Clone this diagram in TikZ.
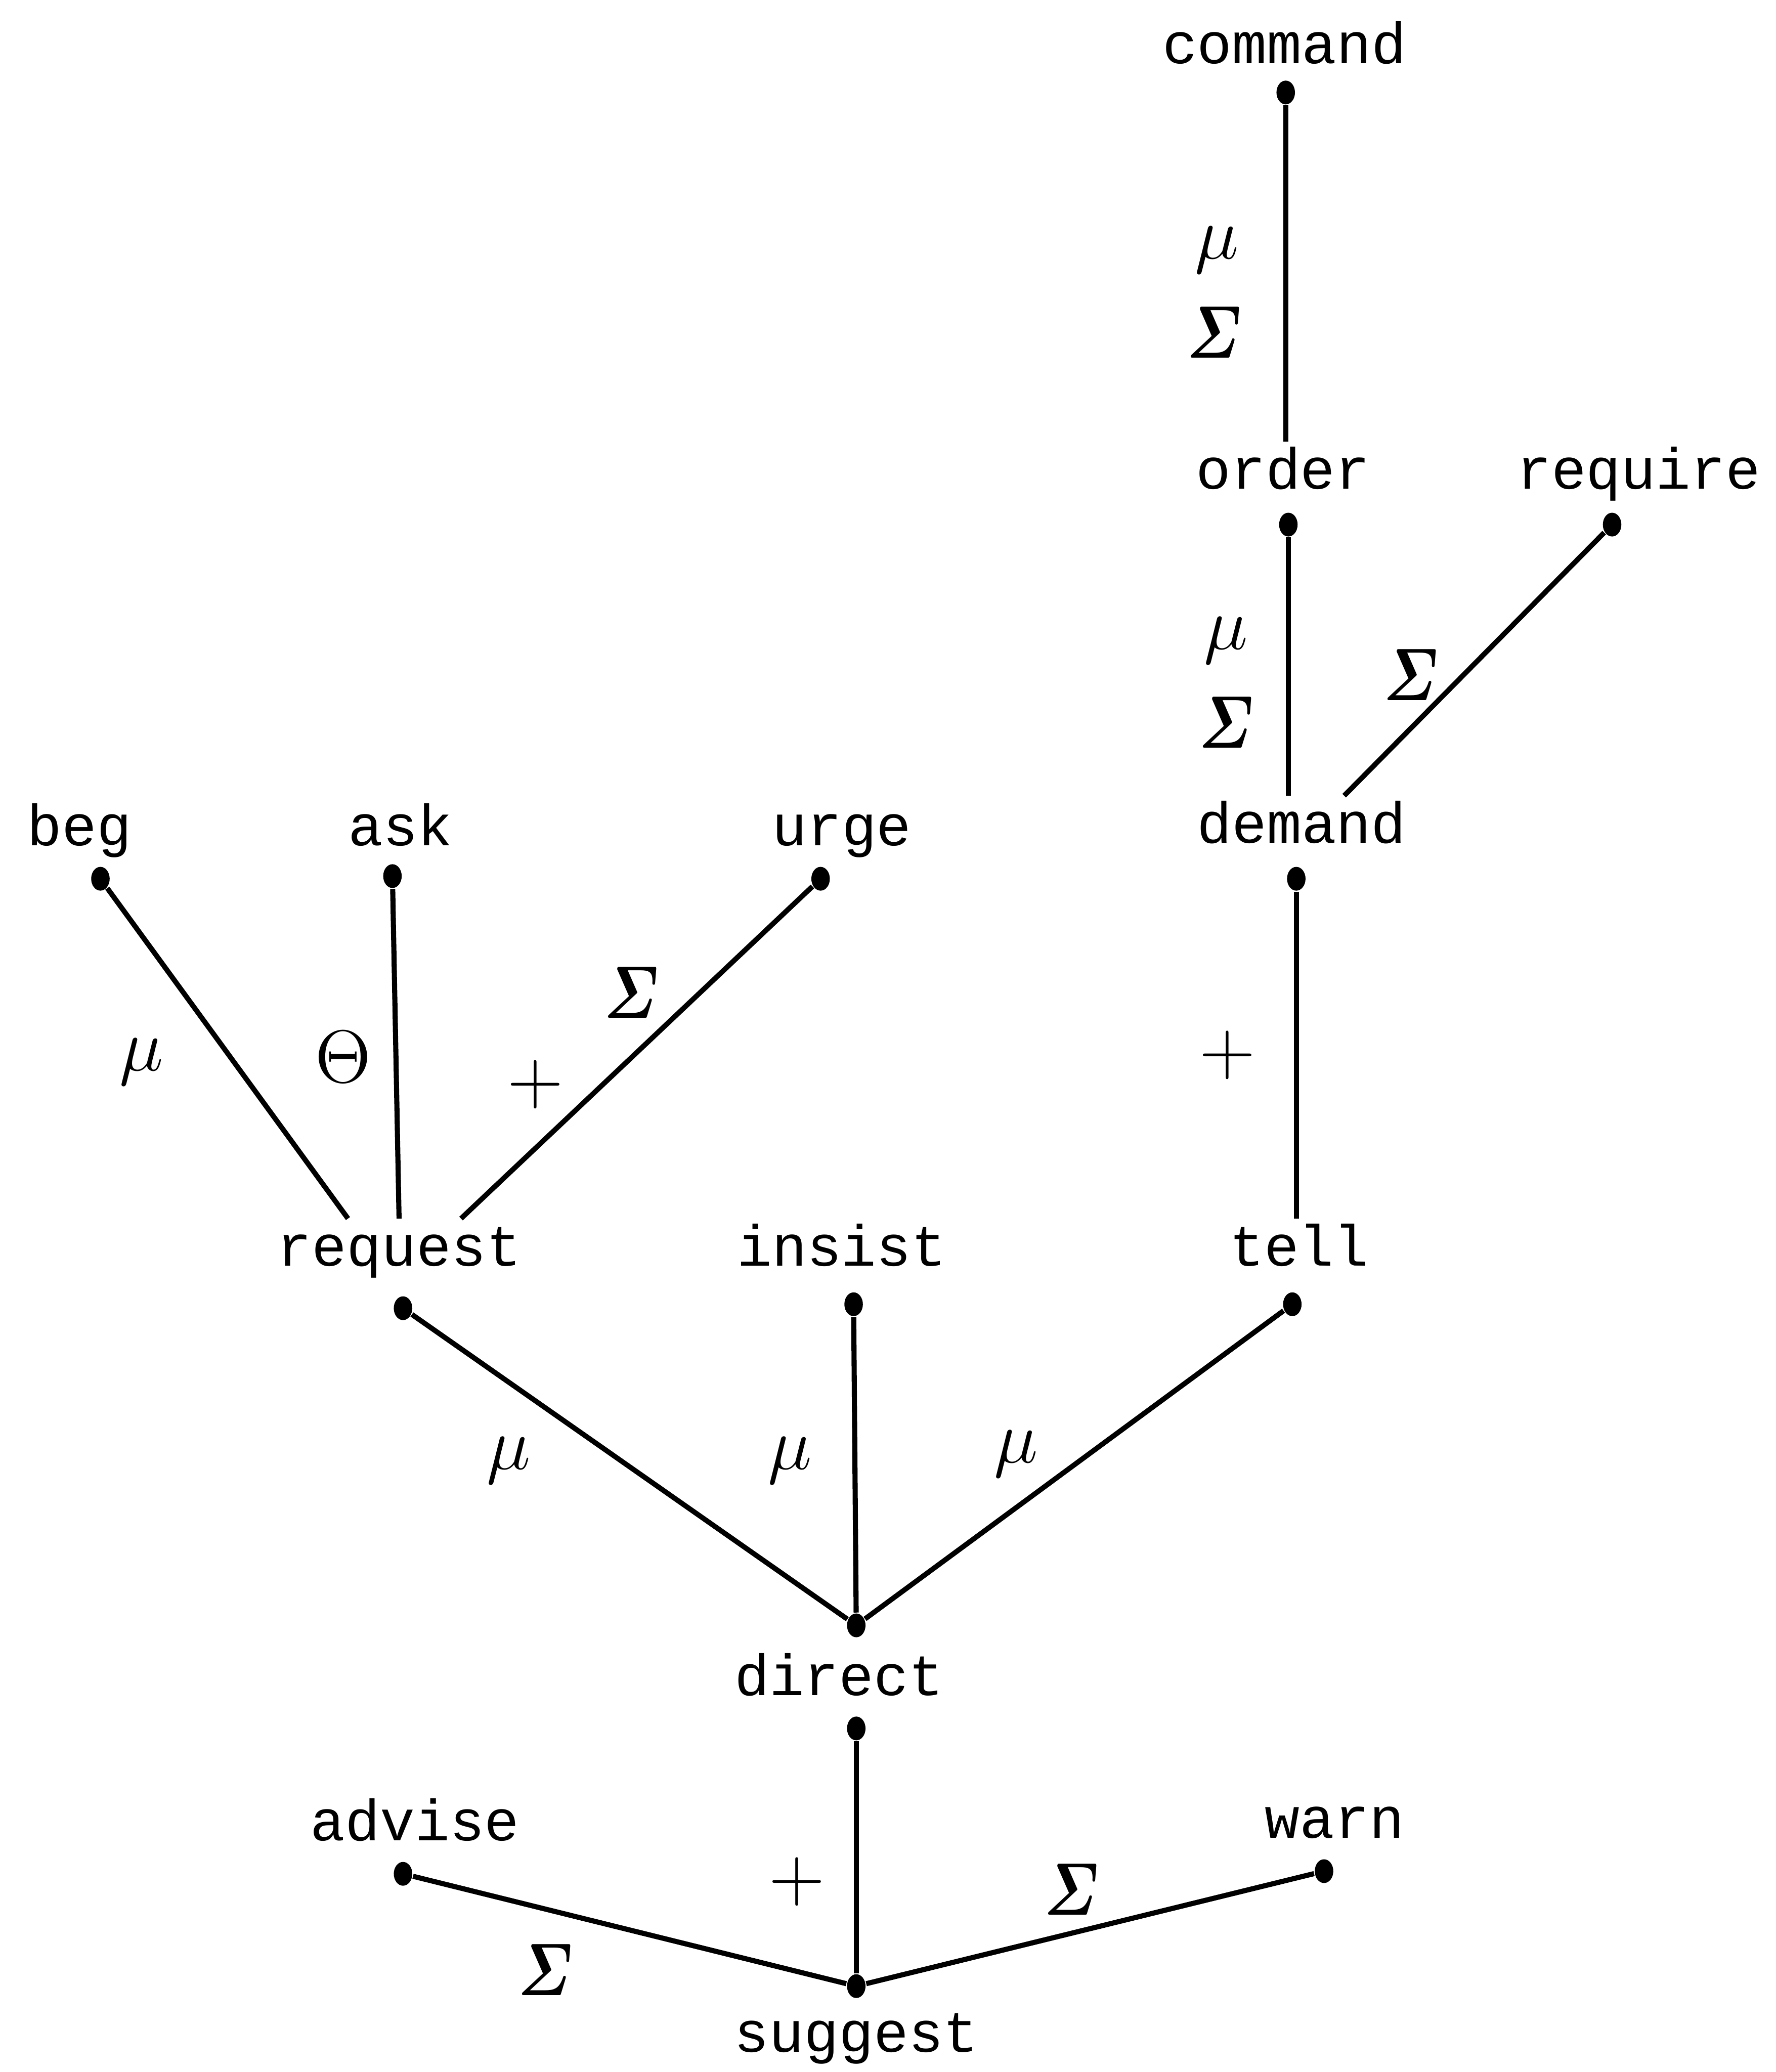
\RequirePackage{fix-cm}
\documentclass[tikz,border=0pt]{standalone}
\usepackage{amsmath,bm}
\usepackage{fontspec}
\newfontfamily\wordfont{Liberation Mono}
\usepackage{tikz}
\usetikzlibrary{shapes.geometric}
% narrow bold italic sigma, as in the typewritten labels
\newcommand{\sig}{\scalebox{0.78}[1]{$\bm{\varSigma}$}}

\begin{document}
\begin{tikzpicture}[x=1cm,y=-1cm,
  word/.style={font=\wordfont\fontsize{12.5}{15}\selectfont,anchor=base,
    inner xsep=0pt,inner ysep=0.3em,text height=0.7em,text depth=0.2em},
  dot/.style={ellipse,fill=black,inner sep=0pt,minimum width=1.4mm,minimum height=1.8mm},
  lbl/.style={font=\fontsize{16}{19}\selectfont},
  link/.style={line width=1.1pt}]
\useasboundingbox (0,0) rectangle (13.44,15.68);
% verbs, placed at their baselines (y grows downwards)
\foreach \n/\x/\y in {command/9.72/0.48, order/9.71/3.70, require/12.40/3.70,
    beg/0.60/6.40, ask/3.03/6.40, urge/6.37/6.40, demand/9.85/6.38,
    request/3.02/9.58, insist/6.37/9.58, tell/9.83/9.58,
    direct/6.35/12.83, advise/3.14/13.93, warn/10.10/13.91, suggest/6.48/15.53}
  \node[word] (\n) at (\x,\y) {\n};
% dots under each verb
\foreach \n/\x/\y in {command/9.73/0.70, order/9.75/3.97, require/12.20/3.97,
    beg/0.76/6.65, ask/2.97/6.63, urge/6.21/6.65, demand/9.81/6.65,
    request/3.05/9.90, insist/6.46/9.87, tell/9.78/9.87,
    direct/6.48/13.08, advise/3.05/14.18, warn/10.02/14.16, suggest/6.48/15.03}
  \node[dot] (\n-dot) at (\x,\y) {};
\node[dot] (direct-top) at (6.48,12.30) {};
% upper branch
\draw[link] (command-dot) -- (command-dot |- order.north)
  node[lbl,pos=0.43,xshift=-0.52cm] {$\mu$}
  node[lbl,pos=0.675,xshift=-0.54cm] {\sig};
\draw[link] (order-dot) -- (order-dot |- demand.north)
  node[lbl,pos=0.40,xshift=-0.47cm] {$\mu$}
  node[lbl,pos=0.716,xshift=-0.47cm] {\sig};
\draw[link] (require-dot) -- (demand.40)
  node[lbl,pos=0.54,xshift=-0.40cm] {\sig};
\draw[link] (demand-dot) -- (demand-dot |- tell.north)
  node[lbl,pos=0.5,xshift=-0.52cm] {$+$};
% request fan
\draw[link] (beg-dot) -- (request.145)
  node[lbl,pos=0.526,xshift=-0.70cm] {$\mu$};
\draw[link] (ask-dot) -- (request.north)
  node[lbl,pos=0.51,xshift=-0.40cm] {$\Theta$};
\draw[link] (urge-dot) -- (request.30)
  node[lbl,pos=0.32,xshift=-0.52cm] {\sig}
  node[lbl,pos=0.596,xshift=-0.51cm] {$+$};
% into direct
\draw[link] (request-dot) -- (direct-top)
  node[lbl,pos=0.48,xshift=-0.85cm] {$\mu$};
\draw[link] (insist-dot) -- (direct-top)
  node[lbl,pos=0.486,xshift=-0.49cm] {$\mu$};
\draw[link] (tell-dot) -- (direct-top)
  node[lbl,pos=0.465,xshift=-0.55cm] {$\mu$};
% into suggest
\draw[link] (direct-dot) -- (suggest-dot)
  node[lbl,pos=0.605,xshift=-0.45cm] {$+$};
\draw[link] (advise-dot) -- (suggest-dot)
  node[lbl,pos=0.306,yshift=-0.46cm] {\sig};
\draw[link] (warn-dot) -- (suggest-dot)
  node[lbl,pos=0.542,yshift=0.33cm] {\sig};
\end{tikzpicture}
\end{document}
